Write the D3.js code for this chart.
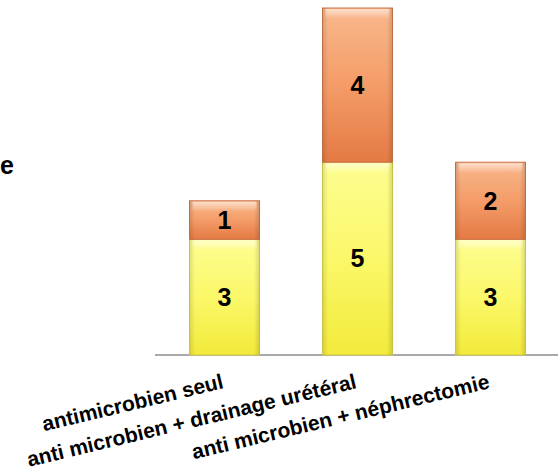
<!DOCTYPE html>
<html>
<head>
<meta charset="utf-8">
<script src="https://cdn.jsdelivr.net/npm/d3@7"></script>
<style>
  body { margin: 0; background: #fff; }
  svg { display: block; font-family: 'Liberation Sans', Arial, sans-serif; }
  .cat-label { font-size: 21px; font-weight: bold; fill: #000; }
  .val-label { font-size: 25px; font-weight: bold; fill: #000; text-anchor: middle; }
</style>
</head>
<body>
<svg id="chart" width="558" height="472"></svg>
<script>
const categories = ['antimicrobien seul', 'anti microbien + drainage urétéral', 'anti microbien + néphrectomie'];
const lower = [3, 5, 3];
const upper = [1, 4, 2];

const W = 558, H = 472;
const svg = d3.select('#chart');
const defs = svg.append('defs');

const grad = (id, stops, horiz) => {
  const g = defs.append('linearGradient').attr('id', id)
    .attr('x1', 0).attr('y1', 0)
    .attr('x2', horiz ? 1 : 0).attr('y2', horiz ? 0 : 1);
  stops.forEach(s => g.append('stop').attr('offset', s[0]).attr('stop-color', s[1]).attr('stop-opacity', s[2] == null ? 1 : s[2]));
};
grad('gYellow', [[0, '#fdfd90'], [0.5, '#fbf86a'], [1, '#f2ea3a']]);
grad('gOrange', [[0, '#f9b88c'], [0.5, '#f49c68'], [1, '#e47a44']]);
grad('gEdge', [[0, '#000', 0.12], [0.08, '#000', 0], [0.92, '#000', 0], [1, '#000', 0.14]], true);
grad('gTop', [[0, '#fff', 0.55], [1, '#fff', 0]]);

const x = d3.scaleBand()
  .domain(categories)
  .range([158, 557])
  .paddingInner(0.474)
  .paddingOuter(0.237);

const y = d3.scaleLinear()
  .domain([0, 9])
  .range([355, 8]);

const series = [
  { key: 'lower', values: lower, fill: 'url(#gYellow)', stroke: '#d6cf4a' },
  { key: 'upper', values: upper, fill: 'url(#gOrange)', stroke: '#c9744a' }
];

const data = categories.map((c, i) => ({ cat: c, lower: lower[i], upper: upper[i] }));
const stacked = d3.stack().keys(['lower', 'upper'])(data);

// axis baseline
svg.append('line')
  .attr('x1', 155).attr('x2', W)
  .attr('y1', y(0)).attr('y2', y(0))
  .attr('stroke', '#8c8c8c')
  .attr('stroke-width', 1.5);

stacked.forEach((layer, li) => {
  const s = series[li];
  const g = svg.append('g');
  layer.forEach(d => {
    const bx = x(d.data.cat), bw = x.bandwidth();
    const y0 = y(d[1]), h = y(d[0]) - y(d[1]);
    g.append('rect')
      .attr('x', bx).attr('y', y0).attr('width', bw).attr('height', h)
      .attr('fill', s.fill).attr('stroke', s.stroke).attr('stroke-width', 1);
    g.append('rect')
      .attr('x', bx).attr('y', y0).attr('width', bw).attr('height', h)
      .attr('fill', 'url(#gEdge)');
    g.append('rect')
      .attr('x', bx + 3).attr('y', y0 + 1).attr('width', bw - 6).attr('height', Math.min(10, h / 3))
      .attr('fill', 'url(#gTop)');
    g.append('text')
      .attr('class', 'val-label')
      .attr('x', bx + bw / 2)
      .attr('y', (y0 + y(d[0])) / 2)
      .attr('dy', '0.35em')
      .text(d[1] - d[0]);
  });
});

// category labels, rotated
svg.append('g').selectAll('text')
  .data(categories)
  .join('text')
  .attr('class', 'cat-label')
  .attr('text-anchor', 'end')
  .attr('transform', d => `translate(${x(d) + x.bandwidth() / 2},388) rotate(-13.5)`)
  .text(d => d);

// cut-off axis title remnant
svg.append('text')
  .attr('x', 0).attr('y', 174)
  .attr('font-size', 25).attr('font-weight', 'bold')
  .text('e');
</script>
</body>
</html>
